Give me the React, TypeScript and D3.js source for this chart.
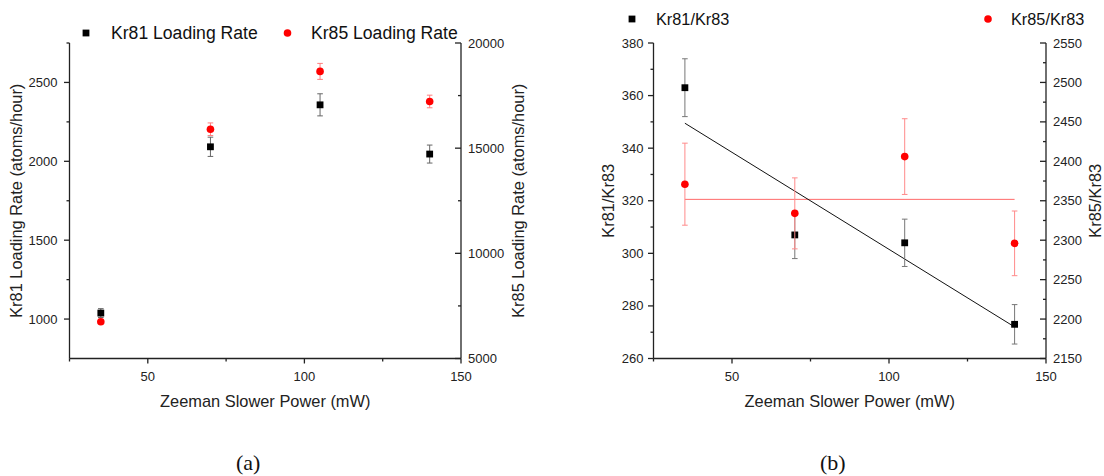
import * as d3 from 'd3';

// Zeeman slower power (mW)
const power = [35, 70, 105, 140];

// (a) loading rates, atoms/hour
const kr81Rate = [1038, 2092, 2358, 2046];
const kr81RateErr = [28, 61, 70, 57];
const kr85Rate = [6750, 15900, 18650, 17220];
const kr85RateErr = [110, 300, 380, 300];

// (b) isotope ratios
const kr81Ratio = [363, 307, 304, 273];
const kr81RatioErr = [11, 9, 9, 7.5];
const kr85Ratio = [2371, 2334, 2406, 2296];
const kr85RatioErr = [52, 45, 48, 41];

const xMajorTicks = [50, 100, 150];
const xMinorTicks = [25, 75, 125];

const FONT = '"Liberation Sans", Arial, sans-serif';
const AXIS_COLOR = '#222';

interface Series {
  values: number[];
  errors: number[];
  color: string;
  errColor: string;
  shape: 'square' | 'circle';
  side: 'left' | 'right';
}

interface AxisSpec {
  domain: [number, number];
  major: number[];
  minor: number[];
  title: string;
  titleX: number;
  labelGap: number;
}

interface Legend {
  label: string;
  shape: 'square' | 'circle';
  color: string;
  x: number;
  y: number;
  textX: number;
  size: number;
}

interface PanelProps {
  left: number;
  right: number;
  top: number;
  bottom: number;
  yLeft: AxisSpec;
  yRight: AxisSpec;
  series: Series[];
  legends: Legend[];
  caption: string;
  children?: (sx: d3.ScaleLinear<number, number>, syL: d3.ScaleLinear<number, number>, syR: d3.ScaleLinear<number, number>) => any;
}

function Marker({ shape, x, y, color }: { shape: string; x: number; y: number; color: string }) {
  if (shape === 'square') {
    return <rect x={x - 3.4} y={y - 3.4} width={6.8} height={6.8} fill={color} />;
  }
  return <circle cx={x} cy={y} r={3.8} fill={color} />;
}

function Panel({ left, right, top, bottom, yLeft, yRight, series, legends, caption, children }: PanelProps) {
  const sx = d3.scaleLinear().domain([25, 150]).range([left, right]);
  const syL = d3.scaleLinear().domain(yLeft.domain).range([bottom, top]);
  const syR = d3.scaleLinear().domain(yRight.domain).range([bottom, top]);
  const midY = (top + bottom) / 2;
  const fmt = d3.format('d');

  return (
    <g fontFamily={FONT} fill={AXIS_COLOR}>
      {/* axis lines; left/bottom ticks point out, right ticks point in */}
      <g stroke={AXIS_COLOR} strokeWidth={1.3}>
        <line x1={left} x2={left} y1={top} y2={bottom} />
        <line x1={right} x2={right} y1={top} y2={bottom} />
        <line x1={left} x2={right} y1={bottom} y2={bottom} />
        {xMajorTicks.map((t) => (
          <line key={'xM' + t} x1={sx(t)} x2={sx(t)} y1={bottom} y2={bottom + 5} />
        ))}
        {xMinorTicks.map((t) => (
          <line key={'xm' + t} x1={sx(t)} x2={sx(t)} y1={bottom} y2={bottom + 3} />
        ))}
        {yLeft.major.map((t) => (
          <line key={'lM' + t} x1={left - 5.5} x2={left} y1={syL(t)} y2={syL(t)} />
        ))}
        {yLeft.minor.map((t) => (
          <line key={'lm' + t} x1={left - 3} x2={left} y1={syL(t)} y2={syL(t)} />
        ))}
        {yRight.major.map((t) => (
          <line key={'rM' + t} x1={right - 6} x2={right} y1={syR(t)} y2={syR(t)} />
        ))}
        {yRight.minor.map((t) => (
          <line key={'rm' + t} x1={right - 3} x2={right} y1={syR(t)} y2={syR(t)} />
        ))}
      </g>

      {/* tick labels */}
      <g fontSize={13}>
        {xMajorTicks.map((t) => (
          <text key={'xl' + t} x={sx(t)} y={bottom + 22} textAnchor="middle">
            {fmt(t)}
          </text>
        ))}
        {yLeft.major.map((t) => (
          <text key={'ll' + t} x={left - yLeft.labelGap} y={syL(t)} dy="0.35em" textAnchor="end">
            {fmt(t)}
          </text>
        ))}
        {yRight.major.map((t) => (
          <text key={'rl' + t} x={right + yRight.labelGap} y={syR(t)} dy="0.35em" textAnchor="start">
            {fmt(t)}
          </text>
        ))}
      </g>

      {/* axis titles */}
      <g fontSize={16.4}>
        <text x={(left + right) / 2} y={bottom + 48} textAnchor="middle">
          Zeeman Slower Power (mW)
        </text>
        <text
          transform={`translate(${yLeft.titleX},${midY}) rotate(-90)`}
          textAnchor="middle"
          dy="0.35em"
        >
          {yLeft.title}
        </text>
        <text
          transform={`translate(${yRight.titleX},${midY}) rotate(-90)`}
          textAnchor="middle"
          dy="0.35em"
        >
          {yRight.title}
        </text>
      </g>

      {children && children(sx, syL, syR)}

      {/* data with error bars */}
      {series.map((s, si) => {
        const sy = s.side === 'left' ? syL : syR;
        return (
          <g key={'s' + si}>
            {s.values.map((v, i) => {
              const x = sx(power[i]);
              const y0 = sy(v - s.errors[i]);
              const y1 = sy(v + s.errors[i]);
              return (
                <g key={i} stroke={s.errColor} strokeWidth={1}>
                  <line x1={x} x2={x} y1={y0} y2={y1} />
                  <line x1={x - 2.8} x2={x + 2.8} y1={y0} y2={y0} />
                  <line x1={x - 2.8} x2={x + 2.8} y1={y1} y2={y1} />
                </g>
              );
            })}
            {s.values.map((v, i) => (
              <Marker key={'m' + i} shape={s.shape} x={sx(power[i])} y={sy(v)} color={s.color} />
            ))}
          </g>
        );
      })}

      {/* legend */}
      {legends.map((l) => (
        <g key={l.label}>
          <Marker shape={l.shape} x={l.x} y={l.y} color={l.color} />
          <text x={l.textX} y={l.y} dy="0.35em" fontSize={l.size} fill="#111">
            {l.label}
          </text>
        </g>
      ))}

      <text
        x={(left + right) / 2 - 17}
        y={470}
        textAnchor="middle"
        fontFamily='"Liberation Serif", "DejaVu Serif", serif'
        fontSize={22}
        fill="#111"
      >
        {caption}
      </text>
    </g>
  );
}

// weighted least squares line through the ratio data
function weightedFit(xs: number[], ys: number[], errs: number[]) {
  const w = errs.map((e) => 1 / (e * e));
  const sw = d3.sum(w);
  const mx = d3.sum(xs.map((x, i) => w[i] * x)) / sw;
  const my = d3.sum(ys.map((y, i) => w[i] * y)) / sw;
  const sxy = d3.sum(xs.map((x, i) => w[i] * (x - mx) * (ys[i] - my)));
  const sxx = d3.sum(xs.map((x, i) => w[i] * (x - mx) * (x - mx)));
  const slope = sxy / sxx;
  return (x: number) => my + slope * (x - mx);
}

export default function App() {
  const fit81 = weightedFit(power, kr81Ratio, kr81RatioErr);
  const mean85 = d3.mean(kr85Ratio) as number;
  const xEnds = [power[0], power[power.length - 1]];

  return (
    <svg
      width={1104}
      height={476}
      style={{ position: 'absolute', left: 0, top: 0, background: '#fff' }}
    >
      <rect width={1104} height={476} fill="#fff" />
      <Panel
        left={69.5}
        right={461}
        top={43}
        bottom={358.5}
        yLeft={{
          domain: [750, 2750],
          major: [1000, 1500, 2000, 2500],
          minor: [1250, 1750, 2250, 2750],
          title: 'Kr81 Loading Rate (atoms/hour)',
          titleX: 16,
          labelGap: 12,
        }}
        yRight={{
          domain: [5000, 20000],
          major: [5000, 10000, 15000, 20000],
          minor: [7500, 12500, 17500],
          title: 'Kr85 Loading Rate (atoms/hour)',
          titleX: 518,
          labelGap: 7,
        }}
        series={[
          { values: kr81Rate, errors: kr81RateErr, color: '#000', errColor: '#666', shape: 'square', side: 'left' },
          { values: kr85Rate, errors: kr85RateErr, color: '#ff0000', errColor: '#ff7f7f', shape: 'circle', side: 'right' },
        ]}
        legends={[
          { label: 'Kr81 Loading Rate', shape: 'square', color: '#000', x: 86, y: 33, textX: 111, size: 17.6 },
          { label: 'Kr85 Loading Rate', shape: 'circle', color: '#ff0000', x: 287.5, y: 33, textX: 311, size: 17.6 },
        ]}
        caption="(a)"
      />
      <Panel
        left={653.5}
        right={1046}
        top={43}
        bottom={358.5}
        yLeft={{
          domain: [260, 380],
          major: d3.range(260, 381, 20),
          minor: d3.range(270, 380, 20),
          title: 'Kr81/Kr83',
          titleX: 608,
          labelGap: 10,
        }}
        yRight={{
          domain: [2150, 2550],
          major: d3.range(2150, 2551, 50),
          minor: d3.range(2175, 2550, 50),
          title: 'Kr85/Kr83',
          titleX: 1095,
          labelGap: 7,
        }}
        series={[
          { values: kr81Ratio, errors: kr81RatioErr, color: '#000', errColor: '#777', shape: 'square', side: 'left' },
          { values: kr85Ratio, errors: kr85RatioErr, color: '#ff0000', errColor: '#ff8a8a', shape: 'circle', side: 'right' },
        ]}
        legends={[
          { label: 'Kr81/Kr83', shape: 'square', color: '#000', x: 632, y: 19, textX: 656, size: 16.3 },
          { label: 'Kr85/Kr83', shape: 'circle', color: '#ff0000', x: 988, y: 19, textX: 1011, size: 16.3 },
        ]}
        caption="(b)"
      >
        {(sx, syL, syR) => (
          <g fill="none">
            <line
              x1={sx(xEnds[0])}
              x2={sx(xEnds[1])}
              y1={syR(mean85)}
              y2={syR(mean85)}
              stroke="#ff6a6a"
              strokeWidth={1}
            />
            <line
              x1={sx(xEnds[0])}
              x2={sx(xEnds[1])}
              y1={syL(fit81(xEnds[0]))}
              y2={syL(fit81(xEnds[1]))}
              stroke="#111"
              strokeWidth={1}
            />
          </g>
        )}
      </Panel>
    </svg>
  );
}
